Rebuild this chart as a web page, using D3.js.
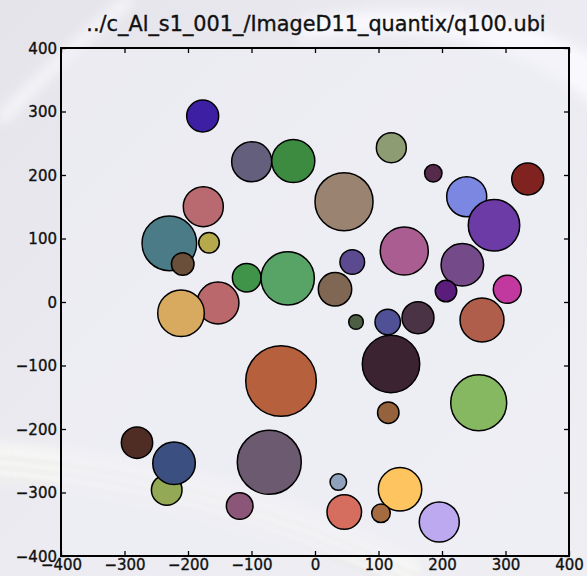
<!DOCTYPE html>
<html>
<head>
<meta charset="utf-8">
<script src="https://cdn.jsdelivr.net/npm/d3@7"></script>
<style>
  html, body { margin: 0; padding: 0; background: #e9e9ef; }
  svg { display: block; }
  text { font-family: "DejaVu Sans", sans-serif; fill: #111; }
</style>
</head>
<body>
<svg id="chart" width="587" height="576"></svg>
<script>
// Grain positions (x, y), sizes and fill colours
const grainX = [-176.9, -99.7, -34.2, -175.9, -229.4, -166.9, -208.3, -107.6, -43.0, -152.8,
  -211.0, -53.5, -280.3, -233.5, -222.0, -72.0, -118.6, 45.7, 120.2, 186.3,
  335.0, 238.9, 281.9, 140.6, 58.7, 232.0, 31.5, 206.3, 302.8, 64.6,
  114.5, 162.2, 263.0, 119.7, 115.4, 257.8, 36.7, 133.9, 46.1, 103.9, 195.7];
const grainY = [292.9, 220.9, 222.0, 150.1, 92.4, 93.4, 59.8, 38.3, 37.3, -1.6,
  -17.8, -124.4, -221.6, -296.0, -254.0, -252.4, -321.3, 158.0, 243.0, 202.7,
  193.7, 165.8, 120.8, 80.3, 63.0, 58.7, 20.0, 17.3, 20.0, -31.5,
  -31.5, -24.7, -28.3, -97.6, -174.3, -158.6, -283.5, -295.0, -330.7, -332.8, -346.5];
const grainR = [25.2, 31.5, 33.9, 31.5, 43.0, 16.2, 17.8, 22.5, 42.0, 33.0,
  36.7, 55.6, 24.7, 24.1, 33.5, 50.4, 21.0, 45.7, 23.6, 13.7,
  25.2, 31.5, 40.5, 37.8, 19.4, 33.5, 26.3, 16.9, 22.0, 11.5,
  20.0, 25.2, 34.6, 45.2, 16.9, 44.1, 13.0, 34.2, 27.2, 14.6, 31.5];
const grainColor = ["#3d1fa3", "#655f7e", "#3c8b40", "#b96a71", "#4a7b86", "#b6a94c", "#6a4f3b", "#3f9449", "#58a466", "#bb686c",
  "#d7aa5f", "#b6603d", "#4f2d25", "#93a955", "#3b4f80", "#6b5a70", "#8c5679", "#9b8371", "#8d9c73", "#552a4b",
  "#80221f", "#7b87e1", "#6c3ba6", "#a95d90", "#5b4a8f", "#754a88", "#806753", "#5b1d7b", "#c1389f", "#4c5e44",
  "#4f5095", "#4b3346", "#b05e4c", "#3b2332", "#95623b", "#86b862", "#8fa2bb", "#fec45f", "#d66e5f", "#a46b41", "#bda9ef"];

const title = "../c_Al_s1_001_/ImageD11_quantix/q100.ubi";
const tickValues = [-400, -300, -200, -100, 0, 100, 200, 300, 400];
const domain = [-400, 400];

const svg = d3.select("#chart");
const W = 587, H = 576;
const margin = { left: 61, right: 18, top: 48, bottom: 20 };
const plotW = W - margin.left - margin.right; // 508
const plotH = H - margin.top - margin.bottom; // 508

const x = d3.scaleLinear().domain(domain).range([margin.left, margin.left + plotW]);
const y = d3.scaleLinear().domain(domain).range([margin.top + plotH, margin.top]);
const rScale = d3.scaleLinear().domain([0, 800]).range([0, plotW]);

// Soft backdrop
const defs = svg.append("defs");
const bgGrad = defs.append("linearGradient").attr("id", "bg").attr("x1", 0).attr("y1", 0).attr("x2", 1).attr("y2", 1);
bgGrad.append("stop").attr("offset", 0).attr("stop-color", "#e4e4ea");
bgGrad.append("stop").attr("offset", 0.5).attr("stop-color", "#ebebf1");
bgGrad.append("stop").attr("offset", 1).attr("stop-color", "#eeeef3");
defs.append("filter").attr("id", "soft").append("feGaussianBlur").attr("stdDeviation", 6);
defs.append("filter").attr("id", "soft2").append("feGaussianBlur").attr("stdDeviation", 2.5);

svg.append("rect").attr("width", W).attr("height", H).attr("fill", "url(#bg)");
const haze = svg.append("g");
haze.append("path").attr("d", "M300,40 C420,20 520,40 600,110 L600,60 C520,10 420,0 300,20 Z")
  .attr("fill", "#fafaff").attr("filter", "url(#soft)").attr("opacity", 0.9);
haze.append("path").attr("d", "M-10,440 C120,450 260,480 420,560 L420,590 C260,520 120,490 -10,480 Z")
  .attr("fill", "#f6f6f4").attr("filter", "url(#soft)").attr("opacity", 0.9);
for (let i = 0; i < 6; i++) {
  haze.append("path")
    .attr("d", `M-10,${452 + i * 5} C120,${462 + i * 5} 260,${492 + i * 5} 420,${572 + i * 5}`)
    .attr("fill", "none").attr("stroke", i % 2 ? "#dcdcd6" : "#ffffff")
    .attr("stroke-width", 1.5).attr("filter", "url(#soft2)").attr("opacity", 0.7);
}
haze.append("path").attr("d", "M0,120 C40,80 80,40 130,0")
  .attr("fill", "none").attr("stroke", "#f8f8fb").attr("stroke-width", 10).attr("filter", "url(#soft)");

// Plot area
svg.append("rect")
  .attr("x", margin.left).attr("y", margin.top).attr("width", plotW).attr("height", plotH)
  .attr("fill", "#eeeef5").attr("opacity", 0.55);

const clipId = "plotclip";
defs.append("clipPath").attr("id", clipId).append("rect")
  .attr("x", margin.left).attr("y", margin.top).attr("width", plotW).attr("height", plotH);

const grains = grainX.map((gx, i) => ({ x: gx, y: grainY[i], r: grainR[i], c: grainColor[i] }));

svg.append("g").attr("clip-path", `url(#${clipId})`)
  .selectAll("circle").data(grains).join("circle")
  .attr("cx", d => x(d.x)).attr("cy", d => y(d.y)).attr("r", d => rScale(d.r))
  .attr("fill", d => d.c).attr("stroke", "#000").attr("stroke-width", 1.5);

// Axes with inward ticks on all four sides
const tickLen = 5;
const fmt = d3.format("d");
const gBottom = svg.append("g").attr("transform", `translate(0,${margin.top + plotH})`)
  .call(d3.axisBottom(x).tickValues(tickValues).tickSizeInner(-tickLen).tickSizeOuter(0).tickPadding(6).tickFormat(fmt));
const gTop = svg.append("g").attr("transform", `translate(0,${margin.top})`)
  .call(d3.axisTop(x).tickValues(tickValues).tickSizeInner(-tickLen).tickSizeOuter(0).tickFormat(""));
const gLeft = svg.append("g").attr("transform", `translate(${margin.left},0)`)
  .call(d3.axisLeft(y).tickValues(tickValues).tickSizeInner(-tickLen).tickSizeOuter(0).tickPadding(4).tickFormat(fmt));
const gRight = svg.append("g").attr("transform", `translate(${margin.left + plotW},0)`)
  .call(d3.axisRight(y).tickValues(tickValues).tickSizeInner(-tickLen).tickSizeOuter(0).tickFormat(""));

[gBottom, gTop, gLeft, gRight].forEach(g => {
  g.select(".domain").remove();
  g.selectAll(".tick line").attr("stroke", "#000").attr("stroke-width", 1.3);
  g.selectAll(".tick text").style("font-size", "15px").attr("fill", "#111")
    .attr("stroke", "#111").attr("stroke-width", 0.35)
    .style("font-family", "DejaVu Sans, sans-serif");
});
gBottom.selectAll(".tick text").attr("dy", "0.55em");
gLeft.selectAll(".tick text").attr("dy", "0.35em");

svg.append("rect")
  .attr("x", margin.left).attr("y", margin.top).attr("width", plotW).attr("height", plotH)
  .attr("fill", "none").attr("stroke", "#000").attr("stroke-width", 2);

svg.append("text")
  .attr("x", 316).attr("y", 31)
  .attr("text-anchor", "middle").style("font-size", "20.8px")
  .attr("stroke", "#111").attr("stroke-width", 0.35)
  .text(title);
</script>
</body>
</html>
